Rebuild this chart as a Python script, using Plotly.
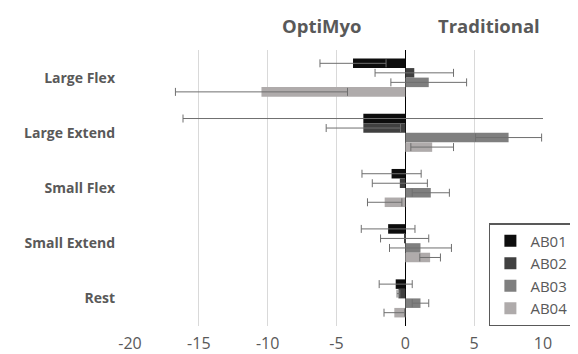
import plotly.graph_objects as go

categories = ["Large Flex", "Large Extend", "Small Flex", "Small Extend", "Rest"]
series_names = ["AB01", "AB02", "AB03", "AB04"]
ab01 = [-3.8, -3.05, -1.0, -1.25, -0.7]
ab02 = [0.65, -3.05, -0.4, -0.05, -0.5]
ab03 = [1.7, 7.5, 1.85, 1.1, 1.1]
ab04 = [-10.45, 1.95, -1.5, 1.8, -0.8]
err01 = [2.4, 13.1, 2.15, 1.95, 1.2]
err02 = [2.85, 2.7, 2.0, 1.75, 0.1]
err03 = [2.75, 2.4, 1.35, 2.25, 0.6]
err04 = [6.25, 1.55, 1.25, 0.75, 0.75]
x_ticks = [-20, -15, -10, -5, 0, 5, 10]
x_tick_labels = ["-20", "-15", "-10", "-5", "0", "5", "10"]
panel_titles = ["OptiMyo", "Traditional"]
panel_title_x = [-6.05, 6.05]

values = [ab01, ab02, ab03, ab04]
errors = [err01, err02, err03, err04]
colors = ["#0d0d0d", "#404040", "#7f7f7f", "#afabab"]

FONT = "Open Sans, Segoe UI, Lato, sans-serif"
GREY = "#595959"

fig = go.Figure()
for name, v, e, c in zip(series_names, values, errors, colors):
    fig.add_trace(go.Bar(
        y=categories, x=v, name=name, orientation="h",
        marker=dict(color=c, line=dict(width=0)),
        error_x=dict(type="data", array=e, visible=True, color="#6f6f6f",
                     thickness=1, width=4),
    ))

fig.update_layout(
    width=578, height=354,
    margin=dict(l=122, r=36, t=42, b=36),
    paper_bgcolor="white", plot_bgcolor="white",
    barmode="group", bargap=0.31, bargroupgap=0,
    font=dict(family=FONT, color=GREY),
    showlegend=True,
    legend=dict(x=0.869, y=0.373, xanchor="left", yanchor="top",
                bgcolor="white", bordercolor=GREY, borderwidth=1.5,
                font=dict(size=15, color=GREY), traceorder="normal",
                itemwidth=30, tracegroupgap=0),
    xaxis=dict(range=[-20, 10], tickvals=x_ticks, ticktext=x_tick_labels,
               showgrid=True, gridcolor="#d9d9d9", gridwidth=1, zeroline=True,
               zerolinecolor="#000000", zerolinewidth=1,
               tickfont=dict(size=16, color=GREY), ticks="", showline=False,
               ticklabelstandoff=6, automargin=False, fixedrange=True),
    yaxis=dict(categoryorder="array", categoryarray=categories,
               autorange="reversed", showgrid=False, ticks="",
               tickfont=dict(size=14, color=GREY, family=FONT),
               ticklabelstandoff=14, showline=False, automargin=False,
               tickprefix="<b>", ticksuffix="</b>"),
    annotations=[
        dict(text="<b>" + t + "</b>", x=px, xref="x", y=1.0, yref="paper",
             yanchor="middle", yshift=25, showarrow=False,
             font=dict(size=18.5, color=GREY, family=FONT))
        for t, px in zip(panel_titles, panel_title_x)
    ],
)

fig.write_html("out.html")
